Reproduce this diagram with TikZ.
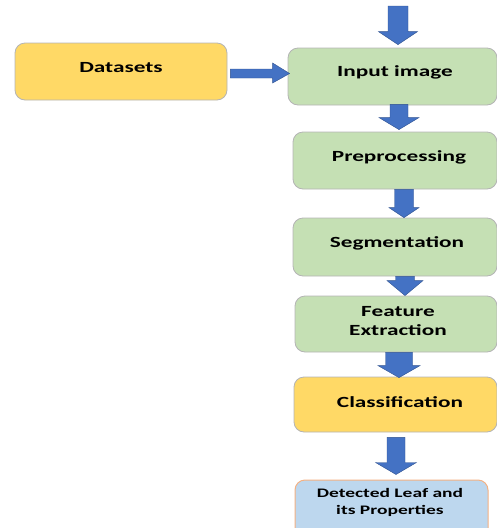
\documentclass[tikz,border=0pt]{standalone}
\usepackage{fontspec}
\usetikzlibrary{calc}
\newfontfamily\boxfont[FakeStretch=1.5]{Carlito}
\definecolor{boxyellow}{HTML}{FFD966}
\definecolor{boxgreen}{HTML}{C5E0B4}
\definecolor{boxblue}{HTML}{BDD7EE}
\definecolor{boxline}{HTML}{B4B4B4}
\definecolor{orangeline}{HTML}{F4B183}
\definecolor{arrowfill}{HTML}{4472C4}
\definecolor{arrowline}{HTML}{2F528F}
\tikzset{
  box/.style={rectangle, rounded corners=10pt, draw=boxline, line width=0.8pt, inner sep=0pt},
  lbl/.style={font=\boxfont\bfseries\fontsize{15.5}{19}\selectfont, align=center, inner sep=0pt, text=black},
  smalllbl/.style={font=\boxfont\bfseries\fontsize{13}{17}\selectfont, align=center, inner sep=0pt, text=black},
  blockarrow/.style={fill=arrowfill, draw=arrowline, line width=0.4pt, line join=miter}
}
% vertical block arrow from node #1 (south) to node #2 (north)
% #3 centre x, #4 shaft width, #5 head width, #6 head length, #7 top gap, #8 bottom gap
\newcommand{\vblock}[8]{%
  \filldraw[blockarrow] let \p1=(#1.south), \p2=(#2.north) in
    ({(#3-#4/2)*1pt},{\y1-#7pt}) -- ({(#3+#4/2)*1pt},{\y1-#7pt})
    -- ({(#3+#4/2)*1pt},{\y2+#8pt+#6pt}) -- ({(#3+#5/2)*1pt},{\y2+#8pt+#6pt})
    -- ({#3*1pt},{\y2+#8pt}) -- ({(#3-#5/2)*1pt},{\y2+#8pt+#6pt})
    -- ({(#3-#4/2)*1pt},{\y2+#8pt+#6pt}) -- cycle;}
\begin{document}
\begin{tikzpicture}[x=1pt,y=-1pt]
\useasboundingbox (0,0) rectangle (497,528);
\clip (0,0) rectangle (497,528);
% boxes
\node[box, fill=boxyellow, minimum width=212pt, minimum height=57pt] (dsbox) at (121,71.5) {};
\node[box, fill=boxgreen, minimum width=209pt, minimum height=57pt] (inpbox) at (392.5,76.5) {};
\node[box, fill=boxgreen, minimum width=204pt, minimum height=57pt] (prebox) at (395,160.5) {};
\node[box, fill=boxgreen, minimum width=204pt, minimum height=58pt] (segbox) at (395,247) {};
\node[box, fill=boxgreen, minimum width=202pt, minimum height=56pt] (featbox) at (396,324) {};
\node[box, fill=boxyellow, minimum width=203pt, minimum height=55pt] (clsbox) at (395.5,404.5) {};
\node[box, draw=orangeline, line width=1pt, fill=boxblue, minimum width=193pt, minimum height=60pt] (detbox) at (391.5,510) {};
% labels
\node[lbl] (ds) at (121,68) {Datasets};
\node[lbl] (inp) at (395,72) {Input image};
\node[lbl] (pre) at (399,157) {Preprocessing};
\node[lbl] (seg) at (397,243) {Segmentation};
\node[lbl] (feat) at (398,321.5) {Feature\\Extraction};
\node[lbl] (cls) at (400,402) {Classification};
\node[smalllbl] (det) at (390,502) {Detected Leaf and\\its Properties};
% arrows
\coordinate (topin) at (398,6);
\filldraw[blockarrow] let \p1=(topin), \p2=(inpbox.north) in
  ({388pt},\y1) -- ({408pt},\y1) -- ({408pt},{\y2+3pt+13pt}) -- ({417.5pt},{\y2+3pt+13pt})
  -- ({398pt},{\y2+3pt}) -- ({378.5pt},{\y2+3pt+13pt}) -- ({388pt},{\y2+3pt+13pt}) -- cycle;
\vblock{inpbox}{prebox}{399}{18}{40}{12}{-1}{2}
\vblock{prebox}{segbox}{404}{19}{30}{10}{0}{0}
\vblock{segbox}{featbox}{405}{19}{36}{15}{0}{0}
\vblock{featbox}{clsbox}{399}{27}{42}{12}{0}{-1}
\vblock{clsbox}{detbox}{396}{18}{41}{12}{5}{5}
% horizontal arrow Datasets -> Input image
\filldraw[blockarrow] let \p1=(dsbox.east), \p2=(inpbox.west) in
  ({\x1+3pt},{-69pt}) -- ({\x2-15pt},{-69pt}) -- ({\x2-15pt},{-63pt}) -- ({\x2+2pt},{-73.5pt})
  -- ({\x2-15pt},{-83pt}) -- ({\x2-15pt},{-78pt}) -- ({\x1+3pt},{-78pt}) -- cycle;
\end{tikzpicture}
\end{document}
